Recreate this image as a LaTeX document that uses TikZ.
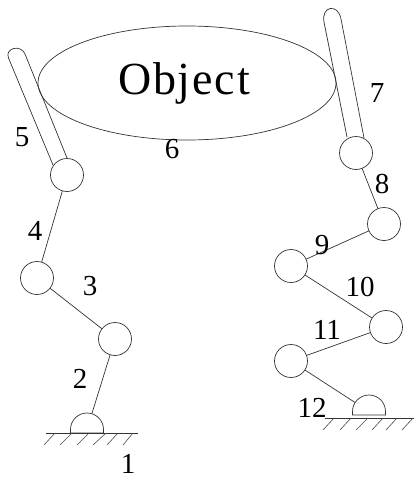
\documentclass[tikz,border=0pt]{standalone}
\usepackage{fontspec}
\usetikzlibrary{shapes.geometric}
\setmainfont{Liberation Serif}
\tikzset{
  joint/.style={circle,draw=black!80,line width=0.7pt,inner sep=0pt,minimum size=33pt,fill=white},
  anchorjoint/.style={circle,inner sep=0pt,minimum size=33pt},
  link/.style={draw=black!80,line width=0.7pt},
  ground/.style={draw=black!80,line width=0.9pt},
  hatch/.style={draw=black!70,line width=0.6pt},
  num/.style={font=\fontsize{29}{29}\selectfont,inner sep=0pt},
}
\begin{document}
\begin{tikzpicture}[x=1pt,y=-1pt]
\useasboundingbox (0,0) rectangle (414,479);
% object
\node[draw=black!80,line width=0.7pt,ellipse,inner sep=0pt,minimum width=298pt,minimum height=114pt] (obj) at (187,83) {};
\node[inner sep=0pt,font=\fontsize{46}{46}\selectfont\addfontfeature{LetterSpace=4}] (objt) at (184,83) {Object};
% bases
\node[anchorjoint] (b1) at (87,429.5) {};
\node[anchorjoint] (b2) at (369,411.5) {};
\draw[link] (70.5,433) -- (70.5,429.5) arc[start angle=180,end angle=360,radius=16.5] -- (103.5,433) -- cycle;
\draw[link] (352.5,415) -- (352.5,411.5) arc[start angle=180,end angle=360,radius=16.5] -- (385.5,415) -- cycle;
% joints
\node[joint] (j5) at (67,175) {};
\node[joint] (j4) at (37,278) {};
\node[joint] (j3) at (115,339) {};
\node[joint] (j7) at (356,153) {};
\node[joint] (j8) at (384,224) {};
\node[joint] (j9) at (291,266) {};
\node[joint] (j10) at (386,327) {};
\node[joint] (j11) at (291,361) {};
% links
\draw[link] (b1) -- (j3);
\draw[link] (j3) -- (j4);
\draw[link] (j4) -- (j5);
\draw[link] (j7) -- (j8);
\draw[link] (j8) -- (j9);
\draw[link] (j9) -- (j10);
\draw[link] (j10) -- (j11);
\draw[link] (j11) -- (b2);
% fingers
\coordinate (la) at (53,165); \coordinate (lb) at (8.5,58);
\coordinate (lc) at (25,54); \coordinate (ld) at (67,158);
\draw[link] (la) -- (lb) .. controls (4.4,48) and (20.9,44) .. (lc) -- (ld);
\coordinate (ra) at (347,137); \coordinate (rb) at (324,22);
\coordinate (rc) at (341,19); \coordinate (rd) at (364,138);
\draw[link] (ra) -- (rb) .. controls (321,6) and (338,3) .. (rc) -- (rd);
% grounds
\coordinate (g1a) at (46,433); \coordinate (g1b) at (138,433);
\coordinate (g2a) at (325,418); \coordinate (g2b) at (414,418);
\draw[ground] (g1a) -- (g1b);
\draw[ground] (g2a) -- (g2b);
\foreach \t/\b in {55/44,72/60,89/77,106/93,118/107,133/123}
  \draw[hatch] (\t,433) -- (\b,445);
\foreach \t/\b in {334/323,351/340,368/356,383/372,397/386,413/402}
  \draw[hatch] (\t,418) -- (\b,430);
% labels
\node[num] (n1) at (128,464) {1};
\node[num] (n2) at (80,379) {2};
\node[num] (n3) at (90,286) {3};
\node[num] (n4) at (35,231) {4};
\node[num] (n5) at (22,137) {5};
\node[num] (n6) at (172,149) {6};
\node[num] (n7) at (377,93) {7};
\node[num] (n8) at (382,184) {8};
\node[num] (n9) at (322,245) {9};
\node[num] (n10) at (360,287) {10};
\node[num] (n11) at (327,330) {11};
\node[num] (n12) at (312,408) {12};
\end{tikzpicture}
\end{document}
